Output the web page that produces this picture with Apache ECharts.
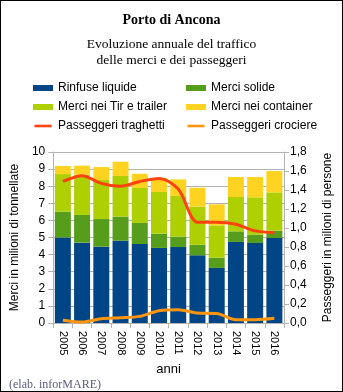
<!DOCTYPE html>
<html>
<head>
<meta charset="utf-8">
<script src="https://cdn.jsdelivr.net/npm/echarts@6/dist/echarts.min.js"></script>
<style>
  html, body { margin: 0; padding: 0; background: #fff; }
  #chart { width: 343px; height: 392px; box-sizing: border-box; border: 1px solid #000; }
</style>
</head>
<body>
<div id="chart"></div>
<script>
// Anni
const years = ['2005', '2006', '2007', '2008', '2009', '2010', '2011', '2012', '2013', '2014', '2015', '2016'];

// Merci (milioni di tonnellate), per tipologia
const rinfuseLiquide = [5.00, 4.70, 4.46, 4.81, 4.62, 4.39, 4.44, 3.96, 3.22, 4.74, 4.68, 4.97];
const merciSolide    = [1.51, 1.62, 1.62, 1.41, 1.23, 0.83, 0.61, 0.62, 0.60, 0.62, 0.49, 0.43];
const merciTir       = [2.20, 2.35, 2.28, 2.38, 2.05, 2.44, 2.38, 2.22, 1.89, 2.01, 2.18, 2.24];
const merciContainer = [0.47, 0.53, 0.76, 0.83, 0.83, 0.82, 0.97, 1.11, 1.23, 1.17, 1.19, 1.25];

// Passeggeri (milioni di persone)
const passTraghetti = [1.49, 1.55, 1.47, 1.44, 1.49, 1.52, 1.41, 1.06, 1.06, 1.04, 0.97, 0.95];
const passCrociere  = [0.03, 0.01, 0.045, 0.055, 0.07, 0.13, 0.14, 0.105, 0.10, 0.035, 0.035, 0.05];

// Tacche degli assi
const leftTicks = { min: 0, max: 10, interval: 1 };
const rightTicks = { min: 0, max: 1.8, interval: 0.2 };

const sans = 'Liberation Sans, Arial, sans-serif';
const serif = 'Liberation Serif, Times New Roman, serif';
const gridGray = '#b3b3b3';

// thin bar used as legend key for the passenger lines
const lineKey = 'path://M0,0 M0,2 L20,2 L20,5 L0,5 Z M20,7';

const chart = echarts.init(document.getElementById('chart'), null, { renderer: 'canvas' });

const barSeries = (name, data, color) => ({
  name, type: 'bar', stack: 'merci', data, barWidth: 16,
  itemStyle: { color },
  emphasis: { disabled: true }
});
const lineSeries = (name, data, color) => ({
  name, type: 'line', yAxisIndex: 1, data, smooth: 0.3,
  symbol: 'none', lineStyle: { color, width: 3 }, itemStyle: { color },
  emphasis: { disabled: true }, z: 5
});

const legendCommon = {
  orient: 'vertical', top: 76, itemGap: 7, itemWidth: 20, itemHeight: 6,
  textStyle: { fontFamily: sans, fontSize: 12, color: '#000' }, selectedMode: false
};

chart.setOption({
  animation: false,
  backgroundColor: '#fff',
  title: [
    { text: 'Porto di Ancona', left: 'center', top: 7,
      textStyle: { fontFamily: serif, fontWeight: 'bold', fontSize: 14, color: '#000' } },
    { text: 'Evoluzione annuale del traffico\ndelle merci e dei passeggeri', left: 'center', top: 30,
      textStyle: { fontFamily: serif, fontWeight: 'normal', fontSize: 13.5, lineHeight: 16.5, color: '#000' } },
    { text: '(elab. inforMARE)', left: 3, top: 373,
      textStyle: { fontFamily: serif, fontWeight: 'normal', fontSize: 12, color: '#5b5b80' } }
  ],
  legend: [
    { ...legendCommon, left: 27,
      data: [{ name: 'Rinfuse liquide', icon: 'rect' },
             { name: 'Merci nei Tir e trailer', icon: 'rect' },
             { name: 'Passeggeri traghetti', icon: lineKey }] },
    { ...legendCommon, left: 180,
      data: [{ name: 'Merci solide', icon: 'rect' },
             { name: 'Merci nei container', icon: 'rect' },
             { name: 'Passeggeri crociere', icon: lineKey }] }
  ],
  grid: { left: 51, right: 53, top: 151, bottom: 68, containLabel: false },
  xAxis: {
    type: 'category', data: years, boundaryGap: true,
    name: 'anni', nameLocation: 'middle', nameGap: 40,
    nameTextStyle: { fontFamily: sans, fontSize: 13, color: '#000' },
    axisLine: { lineStyle: { color: gridGray } },
    axisTick: { show: true, length: 5, lineStyle: { color: gridGray } },
    axisLabel: { rotate: -90, fontFamily: sans, fontSize: 11, color: '#000', margin: 8 }
  },
  yAxis: [
    { type: 'value', ...leftTicks,
      name: 'Merci in milioni di tonnellate', nameLocation: 'middle', nameGap: 26,
      nameTextStyle: { fontFamily: sans, fontSize: 12, color: '#000' },
      axisLine: { show: true, lineStyle: { color: gridGray } },
      axisTick: { show: true, length: 5, lineStyle: { color: gridGray } },
      splitLine: { lineStyle: { color: gridGray } },
      axisLabel: { fontFamily: sans, fontSize: 12, color: '#000', margin: 8 } },
    { type: 'value', ...rightTicks,
      name: 'Passeggeri in milioni di persone', nameLocation: 'middle', nameGap: 38, nameRotate: 90,
      nameTextStyle: { fontFamily: sans, fontSize: 12, color: '#000' },
      axisLine: { show: true, lineStyle: { color: gridGray } },
      axisTick: { show: true, length: 5, lineStyle: { color: gridGray } },
      splitLine: { show: false },
      axisLabel: { fontFamily: sans, fontSize: 12, color: '#000', margin: 6,
        formatter: v => v.toFixed(1).replace('.', ',') } }
  ],
  series: [
    barSeries('Rinfuse liquide', rinfuseLiquide, '#004586'),
    barSeries('Merci solide', merciSolide, '#579d1c'),
    barSeries('Merci nei Tir e trailer', merciTir, '#aecf00'),
    barSeries('Merci nei container', merciContainer, '#ffd320'),
    lineSeries('Passeggeri traghetti', passTraghetti, '#ff420e'),
    lineSeries('Passeggeri crociere', passCrociere, '#ff950e')
  ]
});
</script>
</body>
</html>
